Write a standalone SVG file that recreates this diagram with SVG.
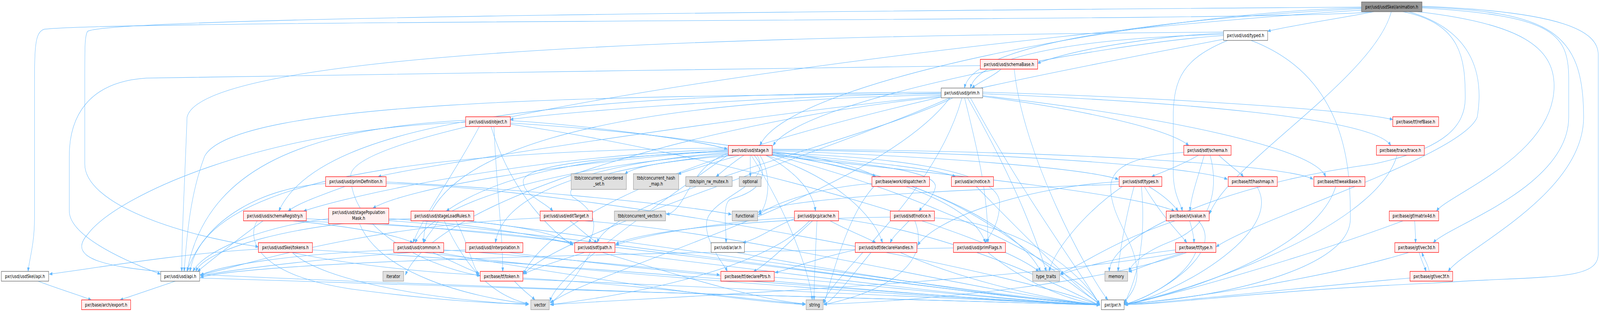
<svg xmlns="http://www.w3.org/2000/svg" width="5474" height="799" viewBox="0 0 5474 799">
<defs>
<marker id="a" markerWidth="12" markerHeight="9" refX="10" refY="4.5" orient="auto" markerUnits="userSpaceOnUse"><path d="M0,0.8 L10,4.5 L0,8.2 z" fill="#63b8ff" stroke="#63b8ff" stroke-width="1"/></marker>
</defs>
<style>
.e{fill:none;stroke:#63b8ff;stroke-width:1.1;marker-end:url(#a)}
.r{fill:#fff0f0;stroke:#ff0000;stroke-width:1.3}
.w{fill:#ffffff;stroke:#666666;stroke-width:1.3}
.g{fill:#e0e0e0;stroke:#999999;stroke-width:1.3}
.k{fill:#999999;stroke:#666666;stroke-width:1.3}
text{font-family:"DejaVu Sans","Liberation Sans",sans-serif;font-size:12.7px;fill:#000000;text-anchor:middle}
</style>
<rect width="5474" height="799" fill="#ffffff"/>
<g id="diagram" transform="scale(0.74826,1)">
<g id="edges">
<path class="e" d="M4690,30 C4500,55 400,50 150,75 C118,85 118,120 118,250 L118,560 C118,625 100,665 96,695"/>
<path class="e" d="M4700,30 C4600,45 4420,65 4337,80"/>
<path class="e" d="M4658,22 C4200,40 3330,90 3300,225.5"/>
<path class="e" d="M4658,20 C4000,30 2700,200 2600,372.5"/>
<path class="e" d="M4658,18 C3500,25 400,40 300,80 C290,90 290,120 290,200 L290,420 C290,520 600,600 884,632"/>
<path class="e" d="M4760,30 C4700,200 4200,420 4138,548"/>
<path class="e" d="M4865,20 C5300,40 5367,80 5367,200 L5367,300 C5367,480 4950,580 4904,621.5"/>
<path class="e" d="M4865,18 C5300,30 5418,80 5418,300 C5418,500 5000,640 4955,695"/>
<path class="e" d="M4850,30 C5200,60 5317,120 5317,220 C5317,400 4950,500 4915,540.5"/>
<path class="e" d="M4865,16 C5350,30 5468,80 5468,140 L5468,650 C5468,720 5300,705 4900,725 C4300,745 4000,780 3846,780"/>
<path class="e" d="M4800,30 C5000,60 5013,150 5013,250 C5013,320 4950,380 4700,420 C4200,470 3800,600 3795,695"/>
<path class="e" d="M4820,30 C5050,80 5076,200 5054,300 C5000,400 4300,560 4161,632"/>
<path class="e" d="M4658,26 C3500,80 1200,300 1200,450 C1200,600 1500,690 1643,706"/>
<path class="e" d="M4186,85 C4000,90 3700,120 3550,162"/>
<path class="e" d="M4186,88 C3800,95 3350,130 3320,225.5"/>
<path class="e" d="M4186,91 C3800,110 2750,250 2645,372.5"/>
<path class="e" d="M4186,82 C3000,90 700,110 640,300 C630,500 622,600 622,695"/>
<path class="e" d="M4280,103.5 C4620,200 4620,450 4620,560 C4620,700 4100,770 3846,777"/>
<path class="e" d="M4190,100 C3500,200 2000,400 1789,702"/>
<path class="e" d="M4200,103.5 C4050,150 4014,200 4014,300 L4014,440 C4014,500 4040,520 4045,540.5"/>
<path class="e" d="M3425,177 C3400,195 3350,210 3325,225.5"/>
<path class="e" d="M3354,168 C2500,180 800,190 500,200 C300,210 237,300 237,400 L237,540 C237,600 400,660 549,702"/>
<path class="e" d="M3470,177 C3500,400 3720,700 3790,768"/>
<path class="e" d="M3220,238 C2500,250 1900,290 1746,306"/>
<path class="e" d="M3220,240 C2000,245 800,260 700,400 C650,500 640,600 630,695"/>
<path class="e" d="M3220,243 C2000,260 1450,400 1449,621.5"/>
<path class="e" d="M3300,250.5 C3350,400 3380,500 3380,621.5"/>
<path class="e" d="M3220,236 C2000,240 1100,300 954,540.5"/>
<path class="e" d="M3220,245 C2500,300 1400,430 1294,452.5"/>
<path class="e" d="M3260,250.5 C3000,350 2100,500 2043,621.5"/>
<path class="e" d="M3362,240 C4000,260 4700,300 4758,372.5"/>
<path class="e" d="M3362,236 C4000,250 4600,280 4765,306"/>
<path class="e" d="M3362,247 C3700,280 4000,330 4067,372.5"/>
<path class="e" d="M3250,250.5 C2800,400 1900,600 1793,702"/>
<path class="e" d="M3362,245 C4000,300 4500,380 4535,452.5"/>
<path class="e" d="M3220,248 C2500,300 1500,500 1387,704"/>
<path class="e" d="M3250,250.5 C3000,500 2000,700 1885,776"/>
<path class="e" d="M3291,250.5 C3200,500 2850,700 2816,776"/>
<path class="e" d="M3320,250.5 C3500,500 3700,700 3762,779"/>
<path class="e" d="M3310,250.5 C3500,500 3560,650 3580,695"/>
<path class="e" d="M1593,308 C1000,330 700,450 640,695"/>
<path class="e" d="M1640,324 C1550,450 1450,550 1413,621.5"/>
<path class="e" d="M1680,324 C1750,500 1900,600 1960,628"/>
<path class="e" d="M1746,315 C2500,350 3300,450 3371,621.5"/>
<path class="e" d="M1746,309 C2000,320 2400,360 2488,382"/>
<path class="e" d="M1593,313 C900,330 400,500 300,600 C180,700 600,700 1200,720 C2000,745 3300,775 3762,781"/>
<path class="e" d="M1690,324 C1700,500 1720,600 1720,695"/>
<path class="e" d="M1746,318 C2500,400 3400,600 3554,695"/>
<path class="e" d="M2520,397.5 C2300,410 2170,425 2138,446"/>
<path class="e" d="M2530,397.5 C2450,415 2380,430 2320,446"/>
<path class="e" d="M2545,397.5 C2500,420 2470,440 2450,452.5"/>
<path class="e" d="M2567,397.5 L2567,452.5"/>
<path class="e" d="M2492,392 C2350,430 2350,540 2280,549"/>
<path class="e" d="M2600,397.5 C2650,460 2620,540 2595,549"/>
<path class="e" d="M2620,397.5 C2700,430 2780,480 2790,540.5"/>
<path class="e" d="M2580,397.5 C2640,450 2600,490 2500,510 C2470,520 2485,580 2484,621.5"/>
<path class="e" d="M2590,397.5 C2650,470 2450,500 2420,560 C2400,610 2480,680 2488,695"/>
<path class="e" d="M2642,388 C2800,400 2950,430 2996,452.5"/>
<path class="e" d="M2642,390 C2900,410 3200,430 3269,452.5"/>
<path class="e" d="M2642,395 C3000,420 3210,440 3200,480 C3190,510 3160,525 3144,540.5"/>
<path class="e" d="M2620,397.5 C2850,450 2990,550 3019,621.5"/>
<path class="e" d="M2642,392 C3000,400 3420,430 3420,520 C3420,570 3390,600 3371,621.5"/>
<path class="e" d="M2642,386 C3200,400 3700,430 3826,459"/>
<path class="e" d="M2642,384 C3500,390 4100,430 4199,459"/>
<path class="e" d="M2642,382 C3600,385 4400,420 4492,459"/>
<path class="e" d="M2642,398 C3300,450 3900,500 4018,540.5"/>
<path class="e" d="M2492,382 C1800,400 1200,500 1039,540.5"/>
<path class="e" d="M2492,384 C1900,420 1400,480 1276,533"/>
<path class="e" d="M2492,386 C2000,400 1700,450 1527,540.5"/>
<path class="e" d="M2492,388 C2100,400 1790,420 1790,465 C1790,500 1870,520 1891,540.5"/>
<path class="e" d="M2492,390 C2000,420 1720,500 1695,621.5"/>
<path class="e" d="M2492,395 C2200,420 1900,460 1960,505 C2040,540 2045,580 2014,621.5"/>
<path class="e" d="M2492,393 C2000,420 1500,500 1420,621.5"/>
<path class="e" d="M2492,379 C1500,385 700,450 650,695"/>
<path class="e" d="M2570,397.5 C2700,550 2770,700 2779,768"/>
<path class="e" d="M2492,396 C2300,500 1900,700 1882,772"/>
<path class="e" d="M2642,396 C3200,450 3500,600 3560,695"/>
<path class="e" d="M2642,397 C3200,500 3700,700 3762,779"/>
<path class="e" d="M4100,397.5 C4050,420 3980,440 3940,452.5"/>
<path class="e" d="M4120,397.5 C4100,450 4075,500 4071,540.5"/>
<path class="e" d="M4140,397.5 C4170,480 4150,580 4000,620 C3900,650 3870,680 3862,695"/>
<path class="e" d="M4050,390 C3900,400 3800,420 3800,480 C3800,560 3890,620 3890,700 C3890,740 3860,760 3846,775"/>
<path class="e" d="M4170,397.5 C4200,420 4240,440 4254,452.5"/>
<path class="e" d="M4780,397.5 C4700,600 4000,760 3846,779"/>
<path class="e" d="M1180,477.5 C1100,500 1020,520 986,540.5"/>
<path class="e" d="M1114,470 C900,480 700,560 640,695"/>
<path class="e" d="M1321,470 C2000,480 3500,700 3762,782"/>
<path class="e" d="M1321,466 C1700,480 2300,520 2502,549"/>
<path class="e" d="M1124,560 C900,580 700,640 660,695"/>
<path class="e" d="M1330,560 C1600,570 1900,610 1960,626"/>
<path class="e" d="M1230,573 C1300,700 1600,760 1808,778"/>
<path class="e" d="M1330,565 C2000,600 3300,760 3762,780"/>
<path class="e" d="M1500,565.5 C1480,590 1460,605 1449,621.5"/>
<path class="e" d="M1406,560 C1000,570 700,640 670,695"/>
<path class="e" d="M1520,565.5 C1600,700 1700,760 1808,778"/>
<path class="e" d="M1590,565.5 C1800,580 1900,600 1960,624"/>
<path class="e" d="M1560,565.5 C1600,620 1620,690 1638,702"/>
<path class="e" d="M1600,565.5 C2200,620 3400,760 3762,780"/>
<path class="e" d="M1950,565.5 C1990,590 2010,605 2043,621.5"/>
<path class="e" d="M1848,558 C1200,580 800,690 686,703"/>
<path class="e" d="M2000,565.5 C2600,600 3400,760 3762,780"/>
<path class="e" d="M900,565.5 C800,620 700,680 676,695"/>
<path class="e" d="M1000,565.5 C1200,580 1350,600 1413,621.5"/>
<path class="e" d="M1000,565 C1500,580 1800,600 1960,624"/>
<path class="e" d="M880,565.5 C850,600 850,700 1200,740 C1500,770 1700,778 1808,778"/>
<path class="e" d="M1048,560 C2000,600 3300,760 3762,780"/>
<path class="e" d="M2780,565.5 C2700,620 2620,680 2578,695"/>
<path class="e" d="M2718,560 C2650,580 2600,610 2542,621.5"/>
<path class="e" d="M2840,565.5 C2900,590 2970,610 2996,621.5"/>
<path class="e" d="M2795,565.5 C2790,650 2785,720 2785,768"/>
<path class="e" d="M2718,557 C2500,565 2200,600 2107,628"/>
<path class="e" d="M2869,560 C3300,600 3700,760 3762,782"/>
<path class="e" d="M2770,565.5 C2600,700 2100,760 1885,780"/>
<path class="e" d="M3110,565.5 C3080,590 3055,605 3046,621.5"/>
<path class="e" d="M3130,565.5 C3200,700 2950,760 2819,780"/>
<path class="e" d="M3197,558 C3500,570 3700,700 3762,779"/>
<path class="e" d="M3046,556 C2600,560 2200,590 2107,625"/>
<path class="e" d="M3120,477.5 C3400,550 3600,700 3762,777"/>
<path class="e" d="M2990,477.5 C2900,550 2850,700 2819,778"/>
<path class="e" d="M2983,470 C2800,480 2650,520 2595,550"/>
<path class="e" d="M3340,477.5 C3500,600 3700,750 3762,778"/>
<path class="e" d="M3930,477.5 C3980,500 4010,520 4031,540.5"/>
<path class="e" d="M3915,477.5 C3980,560 4040,600 4060,621.5"/>
<path class="e" d="M3840,477.5 C3700,550 3600,650 3590,695"/>
<path class="e" d="M3905,477.5 C3920,600 3900,700 3846,778"/>
<path class="e" d="M3829,465 C3500,480 3200,560 3140,628"/>
<path class="e" d="M3829,472 C3500,480 2700,500 2594,544"/>
<path class="e" d="M3880,477.5 C3850,560 3830,650 3825,695"/>
<path class="e" d="M4300,477.5 C4400,600 4000,760 3849,780"/>
<path class="e" d="M4570,477.5 C4500,650 4000,760 3849,780"/>
<path class="e" d="M4070,565.5 C4080,590 4085,610 4085,621.5"/>
<path class="e" d="M4020,565.5 C3800,620 3700,680 3628,700"/>
<path class="e" d="M4100,565.5 C4200,650 3950,760 3849,779"/>
<path class="e" d="M4840,565.5 C4842,590 4843,605 4843,621.5"/>
<path class="e" d="M4800,565.5 C4500,650 4000,760 3849,779"/>
<path class="e" d="M4855,646.5 C4865,670 4875,685 4879,695"/>
<path class="e" d="M4890,695 C4885,675 4870,660 4865,646.5"/>
<path class="e" d="M4820,646.5 C4500,720 4000,770 3849,779"/>
<path class="e" d="M4824,712 C4400,740 4000,775 3849,780"/>
<path class="e" d="M884,638 C600,650 300,690 169,702"/>
<path class="e" d="M1000,646.5 C1200,680 1500,700 1640,704"/>
<path class="e" d="M1000,646.5 C1100,720 1500,770 1808,780"/>
<path class="e" d="M1069,640 C2000,680 3300,770 3762,781"/>
<path class="e" d="M1347,640 C1000,650 750,680 686,705"/>
<path class="e" d="M1480,646.5 C1550,670 1600,690 1640,700"/>
<path class="e" d="M1450,646.5 C2000,700 3300,770 3762,780"/>
<path class="e" d="M1500,646.5 C1900,700 2500,770 2755,780"/>
<path class="e" d="M1518,640 C1900,660 2300,690 2462,704"/>
<path class="e" d="M1593,640 C1200,650 800,690 686,706"/>
<path class="e" d="M1740,646.5 C2300,700 3300,770 3762,780"/>
<path class="e" d="M2000,646.5 C1900,670 1820,690 1792,702"/>
<path class="e" d="M2020,646.5 C1980,700 1920,760 1882,775"/>
<path class="e" d="M2060,646.5 C2300,700 2600,770 2755,778"/>
<path class="e" d="M2100,646 C2700,700 3400,770 3762,781"/>
<path class="e" d="M2520,646.5 C2900,700 3500,770 3762,780"/>
<path class="e" d="M2926,640 C2800,660 2700,690 2652,698"/>
<path class="e" d="M3080,646.5 C3300,720 3600,770 3762,780"/>
<path class="e" d="M2980,646.5 C2900,720 2850,770 2819,780"/>
<path class="e" d="M3262,635 C2000,650 900,670 686,710"/>
<path class="e" d="M3380,646.5 C3500,720 3650,770 3762,780"/>
<path class="e" d="M4022,640 C3800,660 3680,690 3628,703"/>
<path class="e" d="M4050,646.5 C3950,670 3890,690 3862,696"/>
<path class="e" d="M4060,646.5 C3800,720 3200,770 2819,779"/>
<path class="e" d="M4040,646.5 C3500,720 2300,760 1882,780"/>
<path class="e" d="M4091,646.5 C4050,720 3900,770 3849,779"/>
<path class="e" d="M1789,712 C2200,730 2600,770 2755,779"/>
<path class="e" d="M1760,720 C1790,745 1820,760 1830,768"/>
<path class="e" d="M1789,715 C2600,740 3500,775 3762,781"/>
<path class="e" d="M2649,710 C3000,730 3500,775 3762,781"/>
<path class="e" d="M600,720 C520,740 450,758 411,768"/>
<path class="e" d="M130,720 C200,740 280,758 312,768"/>
<path class="e" d="M683,712 C1500,730 3000,770 3762,781"/>
</g>
<g id="n_anim"><rect class="k" x="4658" y="5" width="207" height="25"/><text x="4761.5" y="22">pxr/usd/usdSkel/animation.h</text></g>
<g id="n_typed"><rect class="w" x="4186" y="78.5" width="151" height="25"/><text x="4261.5" y="95.5">pxr/usd/usd/typed.h</text></g>
<g id="n_schemaBase"><rect class="r" x="3354" y="152" width="196" height="25"/><text x="3452" y="169">pxr/usd/usd/schemaBase.h</text></g>
<g id="n_prim"><rect class="w" x="3220" y="225.5" width="142" height="25"/><text x="3291" y="242.5">pxr/usd/usd/prim.h</text></g>
<g id="n_object"><rect class="r" x="1593" y="299" width="153" height="25"/><text x="1669.5" y="316">pxr/usd/usd/object.h</text></g>
<g id="n_refBase"><rect class="r" x="4765" y="299" width="157" height="25"/><text x="4843.5" y="316">pxr/base/tf/refBase.h</text></g>
<g id="n_stage"><rect class="r" x="2492" y="372.5" width="150" height="25"/><text x="2567" y="389.5">pxr/usd/usd/stage.h</text></g>
<g id="n_sdfschema"><rect class="r" x="4050" y="372.5" width="162" height="25"/><text x="4131" y="389.5">pxr/usd/sdf/schema.h</text></g>
<g id="n_trace"><rect class="r" x="4709" y="372.5" width="164" height="25"/><text x="4791" y="389.5">pxr/base/trace/trace.h</text></g>
<g id="n_primDef"><rect class="r" x="1114" y="452.5" width="207" height="25"/><text x="1217.5" y="469.5">pxr/usd/usd/primDefinition.h</text></g>
<g id="n_cus"><rect class="g" x="1954" y="445" width="189" height="40"/><text x="2048.5" y="460.5">tbb/concurrent_unordered</text><text x="2048.5" y="475.5">_set.h</text></g>
<g id="n_chm"><rect class="g" x="2167" y="445" width="155" height="40"/><text x="2244.5" y="460.5">tbb/concurrent_hash</text><text x="2244.5" y="475.5">_map.h</text></g>
<g id="n_spin"><rect class="g" x="2346" y="452.5" width="159" height="25"/><text x="2425.5" y="469.5">tbb/spin_rw_mutex.h</text></g>
<g id="n_optional"><rect class="g" x="2529" y="452.5" width="75" height="25"/><text x="2566.5" y="469.5">optional</text></g>
<g id="n_dispatcher"><rect class="r" x="2983" y="452.5" width="197" height="25"/><text x="3081.5" y="469.5">pxr/base/work/dispatcher.h</text></g>
<g id="n_arnotice"><rect class="r" x="3255" y="452.5" width="144" height="25"/><text x="3327" y="469.5">pxr/usd/ar/notice.h</text></g>
<g id="n_sdftypes"><rect class="r" x="3829" y="452.5" width="146" height="25"/><text x="3902" y="469.5">pxr/usd/sdf/types.h</text></g>
<g id="n_hashmap"><rect class="r" x="4202" y="452.5" width="168" height="25"/><text x="4286" y="469.5">pxr/base/tf/hashmap.h</text></g>
<g id="n_weakBase"><rect class="r" x="4495" y="452.5" width="175" height="25"/><text x="4582.5" y="469.5">pxr/base/tf/weakBase.h</text></g>
<g id="n_schemaReg"><rect class="r" x="833" y="540.5" width="215" height="25"/><text x="940.5" y="557.5">pxr/usd/usd/schemaRegistry.h</text></g>
<g id="n_spm"><rect class="r" x="1124" y="533" width="206" height="40"/><text x="1227" y="548.5">pxr/usd/usd/stagePopulation</text><text x="1227" y="563.5">Mask.h</text></g>
<g id="n_slr"><rect class="r" x="1406" y="540.5" width="215" height="25"/><text x="1513.5" y="557.5">pxr/usd/usd/stageLoadRules.h</text></g>
<g id="n_editTarget"><rect class="r" x="1848" y="540.5" width="179" height="25"/><text x="1937.5" y="557.5">pxr/usd/usd/editTarget.h</text></g>
<g id="n_cvec"><rect class="g" x="2102" y="540.5" width="175" height="25"/><text x="2189.5" y="557.5">tbb/concurrent_vector.h</text></g>
<g id="n_functional"><rect class="g" x="2505" y="540.5" width="87" height="25"/><text x="2548.5" y="557.5">functional</text></g>
<g id="n_pcpcache"><rect class="r" x="2718" y="540.5" width="151" height="25"/><text x="2793.5" y="557.5">pxr/usd/pcp/cache.h</text></g>
<g id="n_sdfnotice"><rect class="r" x="3046" y="540.5" width="151" height="25"/><text x="3121.5" y="557.5">pxr/usd/sdf/notice.h</text></g>
<g id="n_vtvalue"><rect class="r" x="3990" y="540.5" width="147" height="25"/><text x="4063.5" y="557.5">pxr/base/vt/value.h</text></g>
<g id="n_matrix4d"><rect class="r" x="4753" y="540.5" width="169" height="25"/><text x="4837.5" y="557.5">pxr/base/gf/matrix4d.h</text></g>
<g id="n_tokens"><rect class="r" x="884" y="621.5" width="185" height="25"/><text x="976.5" y="638.5">pxr/usd/usdSkel/tokens.h</text></g>
<g id="n_common"><rect class="r" x="1347" y="621.5" width="171" height="25"/><text x="1432.5" y="638.5">pxr/usd/usd/common.h</text></g>
<g id="n_interp"><rect class="r" x="1593" y="621.5" width="196" height="25"/><text x="1691" y="638.5">pxr/usd/usd/interpolation.h</text></g>
<g id="n_path"><rect class="r" x="1966" y="621.5" width="138" height="25"/><text x="2035" y="638.5">pxr/usd/sdf/path.h</text></g>
<g id="n_ar"><rect class="w" x="2433" y="621.5" width="114" height="25"/><text x="2490" y="638.5">pxr/usd/ar/ar.h</text></g>
<g id="n_declHandles"><rect class="r" x="2926" y="621.5" width="211" height="25"/><text x="3031.5" y="638.5">pxr/usd/sdf/declareHandles.h</text></g>
<g id="n_primFlags"><rect class="r" x="3262" y="621.5" width="178" height="25"/><text x="3351" y="638.5">pxr/usd/usd/primFlags.h</text></g>
<g id="n_tftype"><rect class="r" x="4022" y="621.5" width="138" height="25"/><text x="4091" y="638.5">pxr/base/tf/type.h</text></g>
<g id="n_vec3d"><rect class="r" x="4772" y="621.5" width="150" height="25"/><text x="4847" y="638.5">pxr/base/gf/vec3d.h</text></g>
<g id="n_skelapi"><rect class="w" x="4.5" y="695" width="162" height="25"/><text x="85.5" y="712">pxr/usd/usdSkel/api.h</text></g>
<g id="n_usdapi"><rect class="w" x="550" y="695" width="133" height="25"/><text x="616.5" y="712">pxr/usd/usd/api.h</text></g>
<g id="n_iterator"><rect class="g" x="1310" y="695" width="71" height="25"/><text x="1345.5" y="712">iterator</text></g>
<g id="n_tftoken"><rect class="r" x="1643" y="695" width="146" height="25"/><text x="1716" y="712">pxr/base/tf/token.h</text></g>
<g id="n_declPtrs"><rect class="r" x="2466" y="695" width="183" height="25"/><text x="2557.5" y="712">pxr/base/tf/declarePtrs.h</text></g>
<g id="n_typetraits"><rect class="g" x="3533" y="695" width="92" height="25"/><text x="3579" y="712">type_traits</text></g>
<g id="n_memory"><rect class="g" x="3780" y="695" width="78" height="25"/><text x="3819" y="712">memory</text></g>
<g id="n_vec3f"><rect class="r" x="4824" y="695" width="146" height="25"/><text x="4897" y="712">pxr/base/gf/vec3f.h</text></g>
<g id="n_export"><rect class="r" x="279" y="768" width="168" height="25"/><text x="363" y="785">pxr/base/arch/export.h</text></g>
<g id="n_vector"><rect class="g" x="1816" y="768" width="63" height="25"/><text x="1847.5" y="785">vector</text></g>
<g id="n_string"><rect class="g" x="2758" y="768" width="58" height="25"/><text x="2787" y="785">string</text></g>
<g id="n_pxr"><rect class="w" x="3768" y="768" width="78" height="25"/><text x="3807" y="785">pxr/pxr.h</text></g>
</g>
</svg>
